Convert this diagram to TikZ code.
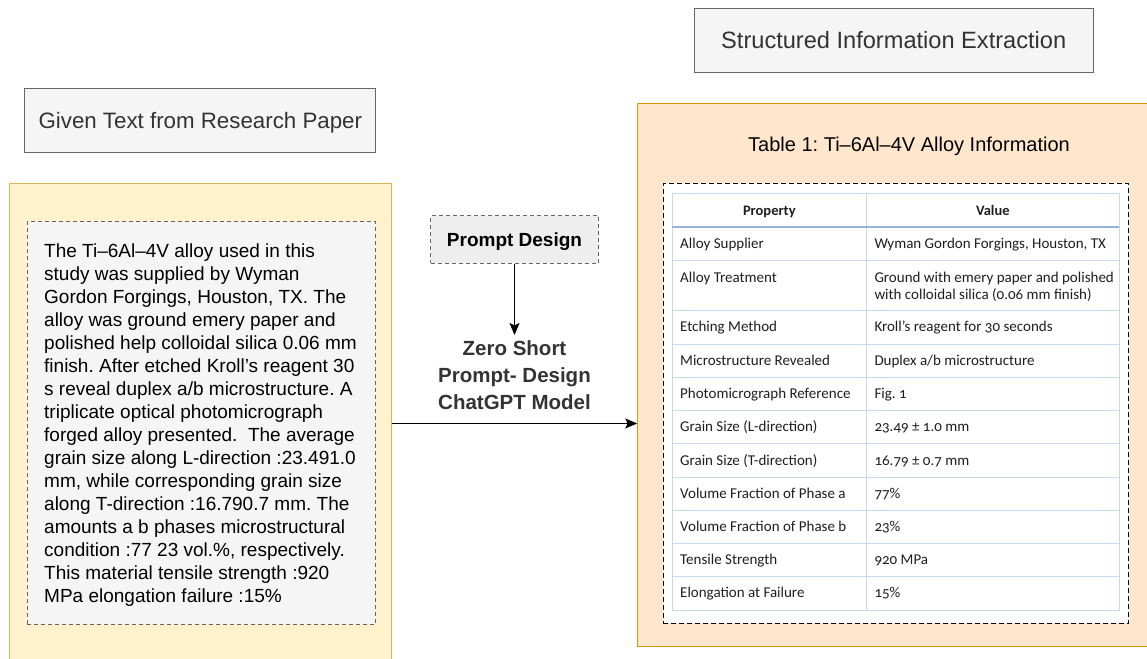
\documentclass[tikz,border=0pt]{standalone}
\usepackage{fontspec}
\setmainfont{Liberation Sans}
\newfontfamily\calibri[Numbers=OldStyle]{Carlito}
\usetikzlibrary{arrows.meta}
\definecolor{boxgray}{HTML}{F5F5F5}
\definecolor{linegray}{HTML}{666666}
\definecolor{textgray}{HTML}{333333}
\definecolor{promptgray}{HTML}{EEEEEE}
\definecolor{yellowfill}{HTML}{FFF2CC}
\definecolor{yellowline}{HTML}{D6B656}
\definecolor{orangefill}{HTML}{FFE6CC}
\definecolor{orangeline}{HTML}{D79B00}
\definecolor{tblline}{HTML}{C6D9F1}
\definecolor{tblhead}{HTML}{95B3D7}
\definecolor{tbltext}{HTML}{1F1F1F}
\frenchspacing

\begin{document}
\begin{tikzpicture}[x=1pt, y=-1pt,
		titlebox/.style={draw=linegray, fill=boxgray, line width=1pt, text=textgray, inner sep=0pt, text depth=0pt},
		dashbox/.style={draw=linegray, line width=1pt, dash pattern=on 4pt off 3pt, inner sep=0pt},
		arr/.style={line width=1.2pt, -{Stealth[length=12pt, width=10pt, inset=2.5pt]}},
		cell/.style={font=\calibri\fontsize{15}{17}\selectfont, text=tbltext, anchor=base west, inner sep=0pt, align=left}]
	\useasboundingbox (0,0) rectangle (1147,658);
	\clip (0,0) rectangle (1147,658);
	% headers
	\node[titlebox, minimum width=350.7, minimum height=64.3, font=\fontsize{22.3}{26}\selectfont] (given) at (200.3,120.2) {Given Text from Research Paper};
	\node[titlebox, minimum width=399, minimum height=64, font=\fontsize{23.6}{28}\selectfont] (structured) at (893.7,40.3) {Structured Information Extraction};
	% left side: the paper text
	\node[draw=yellowline, fill=yellowfill, line width=1pt, minimum width=382, minimum height=480, inner sep=0pt] (paper) at (200,423.5) {};
	\node[dashbox, fill=boxgray, minimum width=348.4, minimum height=402.6] (textbox) at (201.5,423) {};
	\node[anchor=north west, inner sep=0pt, align=left, font=\fontsize{19}{23}\selectfont] (papertext) at (44,243.4) {The Ti–6Al–4V alloy used in this\\
		study was supplied by Wyman\\
		Gordon Forgings, Houston, TX. The\\
		alloy was ground emery paper and\\
		polished help colloidal silica 0.06 mm\\
		finish. After etched Kroll’s reagent 30\\
		s reveal duplex a/b microstructure. A\\
		triplicate optical photomicrograph\\
		forged alloy presented.~ The average\\
		grain size along L-direction :23.491.0\\
		mm, while corresponding grain size\\
		along T-direction :16.790.7 mm. The\\
		amounts a b phases microstructural\\
		condition :77 23 vol.\%, respectively.\\
		This material tensile strength :920\\
		MPa elongation failure :15\%};
	% middle: prompt and model
	\node[dashbox, fill=promptgray, minimum width=167.6, minimum height=47.6, text depth=0pt, font=\bfseries\fontsize{19}{23}\selectfont] (prompt) at (514.5,239.5) {Prompt Design};
	\node[anchor=north, inner xsep=0pt, inner ysep=5.7pt, align=center, text=textgray, font=\bfseries\fontsize{20.5}{26.8}\selectfont] (model) at (514.5,335) {Zero Short\\Prompt- Design\\ChatGPT Model};
	% right side: the table
	\node[draw=orangeline, fill=orangefill, line width=1pt, minimum width=530, minimum height=542.3, inner sep=0pt] (extract) at (902.7,374.85) {};
	\node[font=\fontsize{20}{24}\selectfont, inner sep=0pt] (tabtitle) at (909,146.3) {Table 1: Ti–6Al–4V Alloy Information};
	\node[draw=black, fill=white, line width=1.5pt, dash pattern=on 5pt off 3pt, minimum width=465.4, minimum height=440, inner sep=0pt] (tabframe) at (896,403.3) {};
	\draw[arr] (prompt) -- (model);
	\draw[arr] (paper.east) -- (paper.east -| extract.west);
	\draw[tblline, line width=1pt] (672.3,193.3) rectangle (1119.3,610);
	\draw[tblline, line width=1pt] (866.3,193.3) -- (866.3,610);
	\foreach \y in {260.3,310.3,344.3,377.5,410.7,443.7,477.3,510.3,543.3,576.3}
		\draw[tblline, line width=1pt] (672.3,\y) -- (1119.3,\y);
	\draw[tblhead, line width=1.6pt] (672.3,226.7) -- (1119.3,226.7);
	\node[cell, anchor=base, font=\calibri\bfseries\fontsize{14.5}{17}\selectfont] (hprop) at (769.3,215.7) {Property};
	\node[cell, anchor=base, font=\calibri\bfseries\fontsize{14.5}{17}\selectfont] (hval) at (992.8,215.7) {Value};
	\node[cell] (p2) at (680,282.3) {Alloy Treatment};
	\node[cell] (v2) at (874.3,299.3) {Ground with emery paper and polished\\with colloidal silica (0.06 mm finish)};
	\foreach \y/\p/\v [count=\i] in {243.5/Alloy Supplier/{Wyman Gordon Forgings, Houston, TX},
			327.3/Etching Method/Kroll’s reagent for 30 seconds,
			361/Microstructure Revealed/{Duplex a/b microstructure},
			394/Photomicrograph Reference/Fig. 1,
			427.2/Grain Size (L-direction)/23.49 ± 1.0 mm,
			460.5/Grain Size (T-direction)/16.79 ± 0.7 mm,
			493.8/Volume Fraction of Phase a/77\%,
			526.8/Volume Fraction of Phase b/23\%,
			559.8/Tensile Strength/920 MPa,
			593/Elongation at Failure/15\%} {
		\node[cell] (prop\i) at (680,{\y+4.6}) {\p};
		\node[cell] (val\i) at (874.3,{\y+4.6}) {\v};
	}
\end{tikzpicture}
\end{document}
